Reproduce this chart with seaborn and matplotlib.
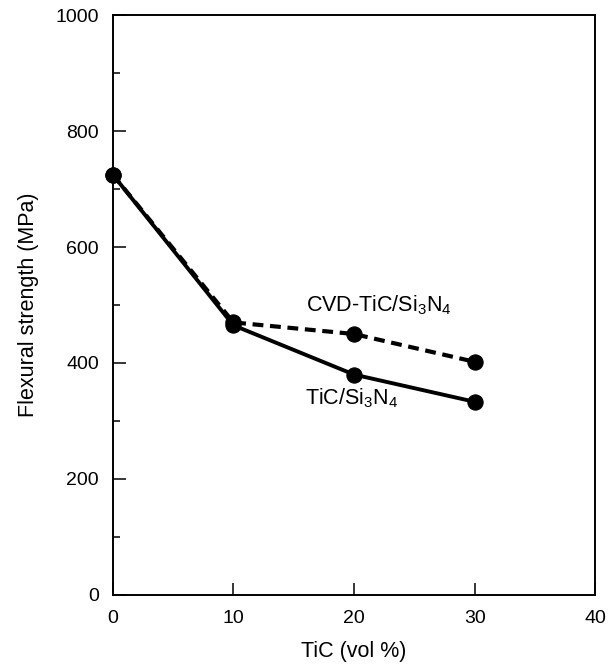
import matplotlib
matplotlib.use('Agg')
import matplotlib.pyplot as plt
import matplotlib.ticker as mticker
import pandas as pd
import seaborn as sns

# ── Data ─────────────────────────────────────────────────────────────────────
tic_vol = [0, 10, 20, 30]
cvd_strength = [725, 470, 450, 402]   # CVD-TiC/Si3N4
tic_strength = [725, 465, 380, 333]   # TiC/Si3N4

x_ticks = [0, 10, 20, 30, 40]
y_ticks = [0, 200, 400, 600, 800, 1000]

sns.set_style('ticks')
plt.rcParams['font.family'] = ['Liberation Sans', 'DejaVu Sans']
plt.rcParams['mathtext.fontset'] = 'custom'
plt.rcParams['mathtext.rm'] = 'Liberation Sans'
plt.rcParams['text.color'] = 'black'
plt.rcParams['axes.labelcolor'] = 'black'
plt.rcParams['xtick.color'] = 'black'
plt.rcParams['ytick.color'] = 'black'
plt.rcParams['axes.edgecolor'] = 'black'

fig = plt.figure(figsize=(6.13, 6.66), dpi=100)
ax = fig.add_axes([0.184, 0.107, 0.787, 0.870])

df_cvd = pd.DataFrame({'x': tic_vol, 'y': cvd_strength})
df_tic = pd.DataFrame({'x': tic_vol, 'y': tic_strength})

sns.lineplot(data=df_cvd, x='x', y='y', ax=ax, color='black', linewidth=3,
             linestyle=(0, (2.6, 1.6)), marker='o', markersize=11,
             markeredgecolor='black', clip_on=False)
sns.lineplot(data=df_tic, x='x', y='y', ax=ax, color='black', linewidth=2.8,
             marker='o', markersize=11, markeredgecolor='black', clip_on=False)

ax.text(16, 500, r'CVD-TiC/Si$\mathregular{_3}$N$\mathregular{_4}$',
        fontsize=15.5, va='center', ha='left')
ax.text(15.9, 340, r'TiC/Si$\mathregular{_3}$N$\mathregular{_4}$',
        fontsize=15.5, va='center', ha='left')

ax.set_xlim(0, 40)
ax.set_ylim(0, 1000)
ax.set_xticks(x_ticks)
ax.set_yticks(y_ticks)
ax.yaxis.set_minor_locator(mticker.MultipleLocator(100))
ax.tick_params(axis='both', which='major', direction='in', length=9, width=1.1,
               labelsize=14, top=False, right=False)
ax.tick_params(axis='x', which='major', pad=11)
ax.tick_params(axis='y', which='major', pad=10)
ax.tick_params(axis='y', which='minor', direction='in', length=5, width=1.1)
ax.set_xlabel('TiC (vol %)', fontsize=15.5, labelpad=10)
ax.set_ylabel('Flexural strength (MPa)', fontsize=15.5, labelpad=12)
for sp in ax.spines.values():
    sp.set_visible(True)
    sp.set_linewidth(1.4)

fig.savefig('out.png', dpi=100)
